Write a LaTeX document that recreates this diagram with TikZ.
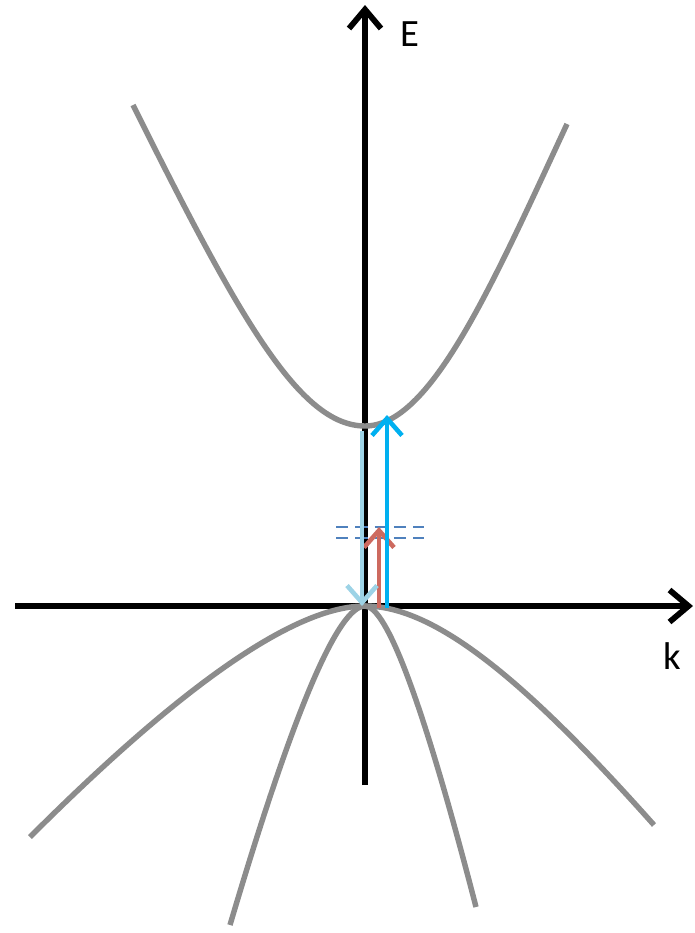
\documentclass[tikz,border=0pt]{standalone}
\usepackage{fontspec}
\setmainfont{Carlito}
\usetikzlibrary{arrows.meta}
\definecolor{band}{HTML}{8C8C8C}
\definecolor{lblue}{HTML}{9DD3E6}
\definecolor{bblue}{HTML}{00B0F0}
\definecolor{rarrow}{HTML}{CD6A5F}
\definecolor{dashblue}{HTML}{4F81BD}
\tikzset{
  axis/.style={line width=3.3pt, black, -{Straight Barb[length=3.8mm,width=6.4mm,line width=3.3pt]}},
  bandline/.style={line width=3.1pt, band},
  trans/.style={line width=2.6pt, -{Straight Barb[length=3.4mm,width=6mm,line width=2.6pt]}},
  level/.style={line width=0.9pt, dashblue, dash pattern=on 7pt off 4pt},
  axlabel/.style={font=\fontsize{22}{26}\selectfont, inner sep=0pt}
}
\begin{document}
\begin{tikzpicture}[x=0.02cm, y=-0.02cm]
\useasboundingbox (0,0) rectangle (695,933);
% named points
\coordinate (O) at (365,606);
\coordinate (Ebot) at (365,785);
\coordinate (Etop) at (365,5);
\coordinate (kl) at (15,606);
\coordinate (kr) at (693,606);
\coordinate (cbmin) at (365,426);
\coordinate (cbl) at (133,105);
\coordinate (cbr) at (567,124);
\coordinate (vwl) at (30,837);
\coordinate (vwr) at (654,825);
\coordinate (vnl) at (230,925);
\coordinate (vnr) at (476,907);
\coordinate (lbs) at (362,431);
\coordinate (lbe) at (362,606);
\coordinate (bbs) at (387,608);
\coordinate (bbe) at (387,415);
\coordinate (rs) at (379,608);
\coordinate (re) at (379,527);
\coordinate (d1l) at (336,527);
\coordinate (d1r) at (424,527);
\coordinate (d2l) at (336,538);
\coordinate (d2r) at (424,538);
% axes
\draw[axis] (Ebot) -- (Etop);
\draw[axis] (kl) -- (kr);
\node[axlabel] (Elab) at (410,34) {E};
\node[axlabel] (klab) at (672,656) {k};
% conduction band
\draw[bandline] (cbl) .. controls (240,320) and (300,426) .. (cbmin)
  .. controls (430,426) and (490,290) .. (cbr);
% valence bands
\draw[bandline] (vwl) .. controls (184,683) and (296,606) .. (O)
  .. controls (435,606) and (525,680) .. (vwr);
\draw[bandline] (vnl) .. controls (293,712) and (338,606) .. (O)
  .. controls (387,606) and (424,706) .. (vnr);
% levels
\draw[level] (d1l) -- (d1r);
\draw[level] (d2l) -- (d2r);
% transitions
\draw[trans, rarrow] (rs) -- (re);
\draw[trans, lblue] (lbs) -- (lbe);
\draw[trans, bblue] (bbs) -- (bbe);
\end{tikzpicture}
\end{document}
